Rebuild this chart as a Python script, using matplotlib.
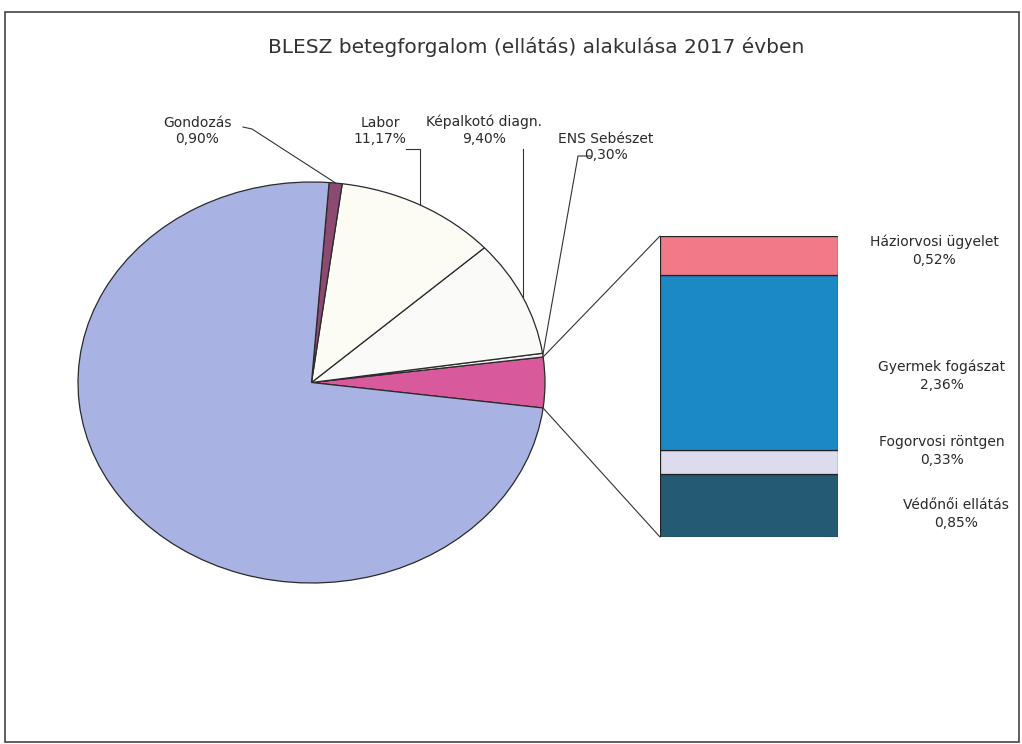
import numpy as np
import matplotlib.pyplot as plt
from matplotlib.patches import ConnectionPatch, Rectangle

plt.rcParams['font.family'] = ['DejaVu Sans']

title = "BLESZ betegforgalom (ellátás) alakulása 2017 évben"

# pie slices, counter-clockwise after the "other" (bar) slice
pie_names = ["ENS Sebészet", "Képalkotó diagn.", "Labor", "Gondozás", "Szakellátás"]
pie_values = [0.30, 9.40, 11.17, 0.90, 74.17]
pie_colors = ["#f0f0f0", "#fafaf8", "#fcfcf4", "#8c4a72", "#a9b3e3"]
other_color = "#d95a9c"

# bar of pie, top to bottom
bar_names = ["Háziorvosi ügyelet", "Gyermek fogászat", "Fogorvosi röntgen", "Védőnői ellátás"]
bar_values = [0.52, 2.36, 0.33, 0.85]
bar_colors = ["#f27a88", "#1a89c6", "#dcdcee", "#245a74"]


def pct(v):
    return f"{v:.2f}%".replace(".", ",")


W, H = 1022, 744
fig = plt.figure(figsize=(W / 100, H / 100), dpi=100)

# overlay axes in pixel coords (y down)
ax = fig.add_axes([0, 0, 1, 1])
ax.set_xlim(0, W)
ax.set_ylim(H, 0)
ax.axis('off')


def box(l, t, r, b):
    return [l / W, 1 - b / H, (r - l) / W, (b - t) / H]


# pie (stretched, like the scan)
pax = fig.add_axes(box(78, 182, 545, 583))
other = sum(bar_values)
vals = [other] + pie_values
cols = [other_color] + pie_colors
wedges, _ = pax.pie(vals, colors=cols, startangle=-other / 2 * 3.6, counterclock=True,
                    wedgeprops=dict(edgecolor='#2a2a2a', linewidth=0.9))
pax.set_aspect('auto')
pax.set_xlim(-1, 1)
pax.set_ylim(-1, 1)
pax.axis('off')

# stacked bar
bax = fig.add_axes(box(660, 236, 838, 537))
bottom = 0
for v, c in zip(bar_values[::-1], bar_colors[::-1]):
    bax.bar(0, v, bottom=bottom, width=1, color=c, edgecolor='#222222', linewidth=0.9)
    bottom += v
bax.set_xlim(-0.5, 0.5)
bax.set_ylim(0, other)
bax.axis('off')

w0 = wedges[0]
for ang, yb in [(w0.theta2, other), (w0.theta1, 0)]:
    a = np.radians(ang)
    con = ConnectionPatch(xyA=(np.cos(a), np.sin(a)), coordsA=pax.transData,
                          xyB=(-0.5, yb), coordsB=bax.transData,
                          color='#333333', lw=0.8)
    fig.add_artist(con)


def edge_px(w):
    a = np.radians((w.theta1 + w.theta2) / 2)
    p = pax.transData.transform((np.cos(a), np.sin(a)))
    return ax.transData.inverted().transform(p)


fs = 10
tc = '#2a2a2a'
# outside labels with leader lines
label_pos = {"Gondozás": (197, 131), "Labor": (380, 131),
             "Képalkotó diagn.": (484, 130), "ENS Sebészet": (606, 147)}
leaders = {"Gondozás": [(243, 127), (252, 129)],
           "Labor": [(406, 149), (None, 149)],
           "Képalkotó diagn.": [(None, 149)],
           "ENS Sebészet": [(591, 156), (578, 156)]}
for i, name in enumerate(pie_names):
    w = wedges[i + 1]
    if name == "Szakellátás":
        continue
    tx, ty = label_pos[name]
    ax.text(tx, ty, f"{name}\n{pct(pie_values[i])}", ha='center', va='center',
            fontsize=fs, color=tc, linespacing=1.25)
    ex, ey = edge_px(w)
    pts = [(ex if px is None else px, py) for px, py in leaders[name]] + [(ex, ey)]
    xs, ys = zip(*pts)
    ax.plot(xs, ys, color='#333333', lw=0.8)

i = pie_names.index("Szakellátás")
ax.text(237, 440, f"Szakellátás\n{pct(pie_values[i])}", ha='center', va='center',
        fontsize=fs, color=tc, linespacing=1.25,
        bbox=dict(boxstyle='square,pad=0.5', fc='white', ec='none'))

bar_label_pos = [(934, 251), (942, 376), (942, 451), (956, 514)]
for (tx, ty), name, v in zip(bar_label_pos, bar_names, bar_values):
    ax.text(tx, ty, f"{name}\n{pct(v)}", ha='center', va='center',
            fontsize=fs, color=tc, linespacing=1.35)

ax.text(536, 47, title, ha='center', va='center', fontsize=14.5, color='#333333')

ax.add_patch(Rectangle((5, 12), 1014, 730, fill=False, ec='#444444', lw=1.2))

fig.savefig("out.png", dpi=100)
